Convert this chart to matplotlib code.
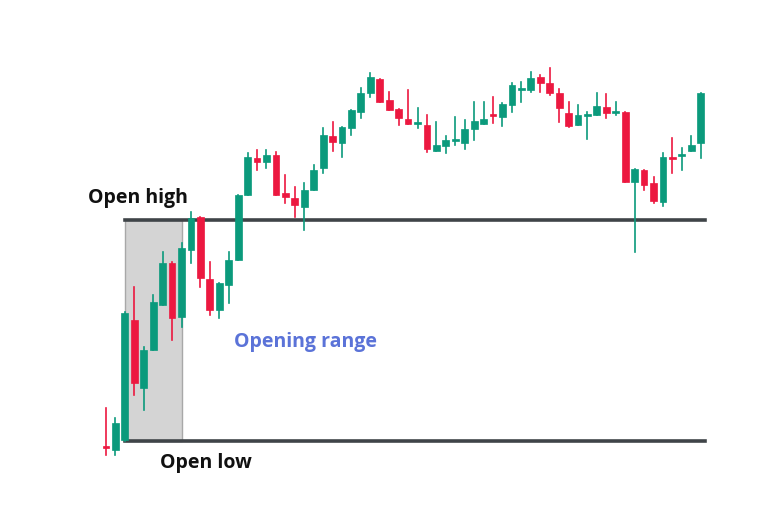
import numpy as np
import matplotlib.pyplot as plt
from matplotlib.patches import Rectangle

# candle OHLC (chart units, larger = lower on screen, axis inverted)
opens = [446, 450, 440, 320, 388, 350, 305, 263, 317, 250, 217, 279, 310, 285, 260, 195,
         158, 162, 155, 193, 198, 207, 190, 168, 136, 143, 128, 112, 93, 79, 100, 109,
         119, 123, 125, 151, 146, 140, 143, 129, 124, 114, 117, 105, 89, 90, 77, 83,
         93, 113, 125, 115, 115, 107, 112, 112, 182, 170, 183, 202, 157, 155, 151, 143]
highs = [408, 418, 312, 287, 347, 295, 252, 262, 243, 212, 217, 262, 283, 252, 195, 153,
         150, 150, 152, 175, 187, 183, 165, 128, 122, 127, 110, 88, 73, 79, 92, 109,
         90, 108, 115, 122, 136, 117, 120, 102, 102, 97, 103, 83, 82, 72, 75, 68,
         89, 102, 105, 112, 93, 94, 102, 112, 169, 170, 177, 153, 138, 148, 136, 93]
lows = [455, 455, 441, 395, 410, 350, 305, 340, 327, 263, 287, 315, 318, 303, 260, 195,
        170, 168, 195, 203, 217, 230, 190, 173, 151, 157, 135, 118, 97, 102, 110, 125,
        124, 128, 152, 151, 153, 145, 149, 140, 124, 123, 126, 112, 102, 92, 92, 95,
        122, 127, 125, 139, 115, 118, 115, 182, 252, 190, 203, 206, 173, 170, 151, 158]
closes = [447, 423, 313, 383, 350, 302, 263, 318, 248, 218, 278, 310, 283, 260, 195, 157,
          162, 155, 195, 197, 205, 190, 170, 135, 142, 127, 110, 93, 77, 102, 110, 118,
          124, 122, 149, 145, 140, 139, 129, 121, 119, 115, 104, 85, 88, 78, 83, 93,
          108, 126, 115, 114, 106, 113, 111, 182, 169, 185, 201, 157, 158, 154, 145, 93]

open_high = 220
open_low = 441
range_start, range_end = 2, 8  # candle indices of the opening range box

green = '#0b9a7c'
red = '#ec1840'

fig = plt.figure(figsize=(7.68, 5.12), dpi=100)
ax = fig.add_axes([0, 0, 1, 1])
step = 9.44
x0 = 106
ax.set_xlim(-x0 / step, (768 - x0) / step)
ax.set_ylim(512, 0)
ax.axis('off')

# opening range box
left = range_start
right = range_end
ax.add_patch(Rectangle((left, open_high), right - left, open_low - open_high,
                       facecolor='#d4d4d4', edgecolor='#a8a8a8', lw=1, zorder=1))

x_end = (705 - x0) / step
ax.plot([left, x_end], [open_high, open_high], color='#3f4448', lw=2.6, zorder=2)
ax.plot([left, x_end], [open_low, open_low], color='#3f4448', lw=2.6, zorder=2)

for i, (o, h, l, c) in enumerate(zip(opens, highs, lows, closes)):
    col = green if c <= o else red
    ax.plot([i, i], [h, l], color=col, lw=1.2, zorder=3)
    top, bot = min(o, c), max(o, c)
    ax.add_patch(Rectangle((i - 0.36, top), 0.72, max(bot - top, 2),
                           facecolor=col, edgecolor=col, lw=0.5, zorder=4))

ax.text((88 - x0) / step, 198, 'Open high', fontsize=14, fontweight='bold',
        family='Open Sans', color='#111111', va='center', ha='left')
ax.text((160 - x0) / step, 463, 'Open low', fontsize=14, fontweight='bold',
        family='Open Sans', color='#111111', va='center', ha='left')
ax.text((234 - x0) / step, 342, 'Opening range', fontsize=14, fontweight='bold',
        family='Open Sans', color='#5b73d8', va='center', ha='left')

fig.savefig('out.png', dpi=100)
